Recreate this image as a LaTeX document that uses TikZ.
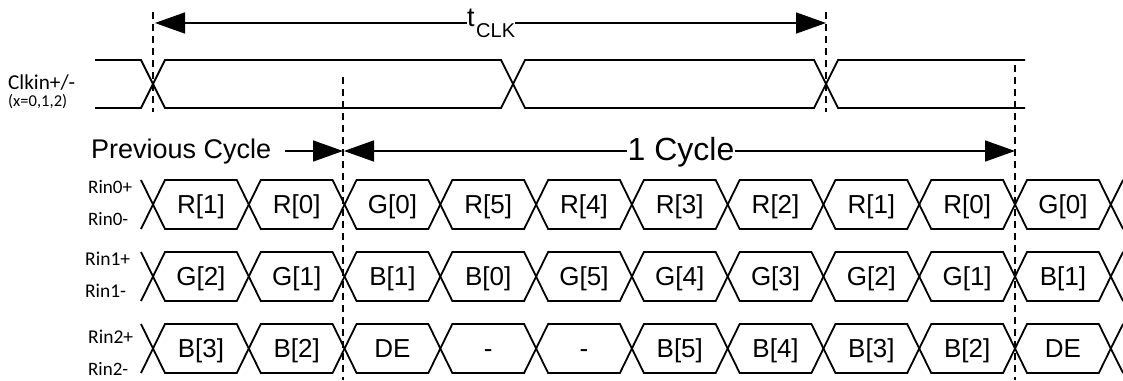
\documentclass[tikz,border=0pt]{standalone}
\usepackage{fontspec}
\setmainfont{Liberation Sans}
\newfontfamily\labfont{Carlito}
\usetikzlibrary{arrows.meta}
\newcommand{\fitw}[2]{\resizebox{#1pt}{!}{\labfont\fontsize{20}{22}\selectfont #2}}
\begin{document}
\begin{tikzpicture}[x=1pt,y=-1pt,
  wave/.style={line width=1.8pt, line join=miter},
  guide/.style={line width=1.6pt, dash pattern=on 7pt off 5pt},
  dim/.style={line width=1.6pt, -{Triangle[length=30pt,width=21pt]}},
  cell/.style={font=\fontsize{26}{30}\selectfont, inner sep=0pt, anchor=base},
  sig/.style={anchor=base west, inner sep=0pt},
  big/.style={inner sep=0pt}
]
\useasboundingbox (0,0) rectangle (1123,380);
\fill[white] (0,0) rectangle (1123,380);

% clock differential pair
\draw[wave] (95,60) -- (141,60) -- (165,108) -- (501,108) -- (525,60) -- (814,60) -- (838,108) -- (1025,108);
\draw[wave] (95,108) -- (141,108) -- (165,60) -- (501,60) -- (525,108) -- (814,108) -- (838,60) -- (1025,60);

% signal labels (baselines)
\node[sig, text depth=0pt] (clk) at (8,89.5) {\fitw{67}{Clkin+/-}};
\node[sig, text height=9pt] (clkx) at (8,106) {\fitw{59}{(x=0,1,2)}};
\node[sig] (r0p) at (88,193) {\fitw{44}{Rin0+}};
\node[sig] (r0m) at (88,225) {\fitw{40}{Rin0-}};
\node[sig] (r1p) at (85,265) {\fitw{45}{Rin1+}};
\node[sig] (r1m) at (85,297) {\fitw{41}{Rin1-}};
\node[sig] (r2p) at (88,343) {\fitw{45}{Rin2+}};
\node[sig] (r2m) at (88,375) {\fitw{40}{Rin2-}};

% data lanes
\foreach \row/\ty/\names in {
  0/180/{R[1],R[0],G[0],R[5],R[4],R[3],R[2],R[1],R[0],G[0]},
  1/252/{G[2],G[1],B[1],B[0],G[5],G[4],G[3],G[2],G[1],B[1]},
  2/324/{B[3],B[2],DE,-,-,B[5],B[4],B[3],B[2],DE}}{
  \pgfmathsetmacro{\by}{\ty+49}
  \pgfmathsetmacro{\my}{\ty+24.5}
  \draw[wave] (141,\ty) -- (153,\my) -- (141,\by);
  \draw[wave] (1123,\ty) -- (1110.8,\my) -- (1123,\by);
  \foreach \t [count=\k from 0] in \names {
    \pgfmathsetmacro{\cl}{153+95.78*\k}
    \pgfmathsetmacro{\cr}{\cl+95.78}
    \draw[wave] (\cl,\my) -- (\cl+12,\ty) -- (\cr-12,\ty) -- (\cr,\my) -- (\cr-12,\by) -- (\cl+12,\by) -- cycle;
    \node[cell] (d\row-\k) at (\cl+47.89,\my+9.3) {\t};
  }
}

% guide lines
\draw[guide] (153,12) -- (153,112);
\draw[guide] (826,12) -- (826,112);
\draw[guide] (343,77) -- (343,380);
\draw[guide] (1015,65) -- (1015,380);

% tCLK dimension
\node[big, anchor=base west] (tclk) at (467,26) {\fontsize{27}{27}\selectfont t\hspace{1.5pt}\raisebox{-11.5pt}{\fontsize{20}{20}\selectfont CLK}};
\coordinate (tl) at (155,23);
\coordinate (tr) at (826,23);
\draw[dim] (tclk.west |- tl) -- (tl);
\draw[dim] (tclk.east |- tr) -- (tr);

% previous cycle
\node[big, anchor=base west, font=\fontsize{27}{30}\selectfont] (prev) at (91,158) {Previous Cycle};
\coordinate (pe) at (343,151);
\draw[dim] ([xshift=14pt]prev.east |- pe) -- (pe);

% one cycle
\node[big, anchor=base, font=\fontsize{32}{36}\selectfont] (cyc) at (681,160.5) {1 Cycle};
\coordinate (cl) at (344,151);
\coordinate (cr) at (1015,151);
\draw[dim] (cyc.west |- cl) -- (cl);
\draw[dim] (cyc.east |- cr) -- (cr);
\end{tikzpicture}
\end{document}
